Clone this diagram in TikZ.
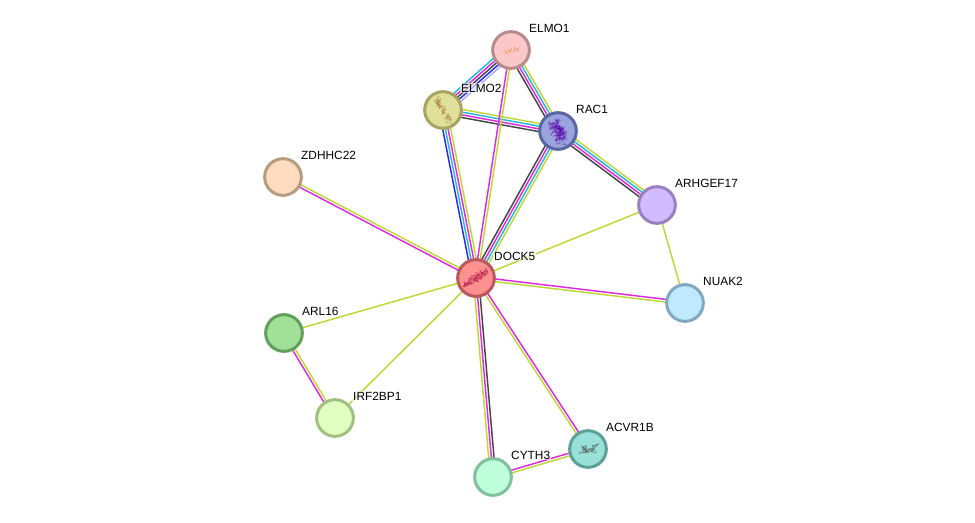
\documentclass[tikz,border=0pt]{standalone}
\usepackage{fontspec}
\setmainfont{Liberation Sans}
\usetikzlibrary{calc,backgrounds}

\definecolor{evblue}{RGB}{40,40,245}
\definecolor{evlight}{RGB}{170,170,255}
\definecolor{evcyan}{RGB}{35,185,220}
\definecolor{evpink}{RGB}{225,40,225}
\definecolor{evolive}{RGB}{190,215,50}
\definecolor{evdark}{RGB}{70,70,70}

\newcommand{\protcolors}[3]{\definecolor{#1fill}{RGB}{#2}\definecolor{#1line}{RGB}{#3}}
\protcolors{elmo1}{250,200,200}{185,138,138}
\protcolors{elmo2}{224,224,154}{165,165,96}
\protcolors{rac1}{154,164,220}{88,102,164}
\protcolors{zdhhc22}{255,220,192}{184,156,128}
\protcolors{arhgef17}{208,188,255}{154,128,192}
\protcolors{dock5}{255,144,144}{184,88,88}
\protcolors{nuak2}{192,232,255}{128,168,192}
\protcolors{arl16}{160,224,152}{96,160,88}
\protcolors{irf2bp1}{224,255,192}{160,192,128}
\protcolors{acvr1b}{152,224,216}{92,160,152}
\protcolors{cyth3}{192,255,220}{128,192,156}

\tikzset{
  protein/.style={circle,draw=#1line,fill=#1fill,line width=2.25pt,minimum size=27.5pt,inner sep=0pt},
  genetag/.style={label={[xshift=-2pt,yshift=16.5pt,font=\fontsize{8.9}{10}\selectfont,
      inner sep=0.6pt,fill=white,fill opacity=.6,text opacity=1]0:#1}},
  link/.style={line width=1.1pt},
  fold/.style={line width=.35pt,line join=round,opacity=.5}
}

% one stripe per evidence channel, first colour on the right hand side of a -> b
\newcommand{\evlink}[3]{
  \foreach \c [count=\i] in {#3} {\xdef\nstripes{\i}}
  \foreach \c [count=\i] in {#3} {
    \pgfmathsetmacro\off{(\i-(\nstripes+1)/2)*2}
    \draw[link,\c] ($(#1)!\off pt!90:(#2)$) -- ($(#2)!\off pt!-90:(#1)$);
  }
}

% scribble along a line through the bubble: node, colour, half length x, y, spread, steps
\newcommand{\foldglyph}[6]{
  \xdef\lastx{-#3}\xdef\lasty{-#4}
  \foreach \k in {1,...,#6} {
    \pgfmathsetmacro\nx{(2*\k/#6-1)*#3+#5*rand}
    \pgfmathsetmacro\ny{(2*\k/#6-1)*#4+#5*rand}
    \draw[fold,#2] ([shift={(\lastx,\lasty)}]#1.center) -- ([shift={(\nx,\ny)}]#1.center);
    \xdef\lastx{\nx}\xdef\lasty{\ny}
  }
}

\begin{document}
\begin{tikzpicture}[x=0.75pt,y=-0.75pt]
  \useasboundingbox (0,0) rectangle (975,522);
  \pgfmathsetseed{7}

  \node[protein=elmo1,genetag=ELMO1] (elmo1) at (511,50) {};
  \node[protein=elmo2,genetag=ELMO2] (elmo2) at (443,110) {};
  \node[protein=rac1,genetag=RAC1] (rac1) at (558,131) {};
  \node[protein=zdhhc22,genetag=ZDHHC22] (zdhhc22) at (283,177) {};
  \node[protein=arhgef17,genetag=ARHGEF17] (arhgef17) at (657,205) {};
  \node[protein=dock5,genetag=DOCK5] (dock5) at (476,278) {};
  \node[protein=nuak2,genetag=NUAK2] (nuak2) at (685,303) {};
  \node[protein=arl16,genetag=ARL16] (arl16) at (284,333) {};
  \node[protein=irf2bp1,genetag=IRF2BP1] (irf2bp1) at (335,418) {};
  \node[protein=acvr1b,genetag=ACVR1B] (acvr1b) at (588,449) {};
  \node[protein=cyth3,genetag=CYTH3] (cyth3) at (493,477) {};

  \begin{scope}[on background layer]
    \evlink{elmo1}{elmo2}{evcyan,evpink,evdark,evblue,evlight}
    \evlink{elmo2}{rac1}{evdark,evpink,evcyan,evolive}
    \evlink{elmo1}{rac1}{evdark,evpink,evcyan,evolive}
    \evlink{rac1}{arhgef17}{evdark,evpink,evcyan,evolive}
    \evlink{rac1}{dock5}{evdark,evpink,evcyan,evolive}
    \evlink{elmo2}{dock5}{evblue,evcyan,evpink,evolive}
    \evlink{elmo1}{dock5}{evpink,evolive}
    \evlink{dock5}{cyth3}{evolive,evpink,evdark}
    \evlink{dock5}{acvr1b}{evolive,evpink}
    \evlink{dock5}{nuak2}{evolive,evpink}
    \evlink{zdhhc22}{dock5}{evpink,evolive}
    \evlink{acvr1b}{cyth3}{evpink,evolive}
    \evlink{arl16}{irf2bp1}{evpink,evolive}
    \evlink{dock5}{arl16}{evolive}
    \evlink{dock5}{irf2bp1}{evolive}
    \evlink{dock5}{arhgef17}{evolive}
    \evlink{arhgef17}{nuak2}{evolive}
  \end{scope}

  % protein structures inside the bubbles
  \foldglyph{elmo1}{orange!70!brown}{8}{-2}{3}{24}
  \foldglyph{elmo2}{brown!85!black}{7}{11}{3.5}{70}
  \foldglyph{rac1}{violet!70!blue}{4}{8}{6.5}{90}
  \foldglyph{dock5}{purple!85!black}{11}{-7}{4.5}{70}
  \foldglyph{acvr1b}{evdark}{8}{-2}{5}{36}
\end{tikzpicture}
\end{document}
